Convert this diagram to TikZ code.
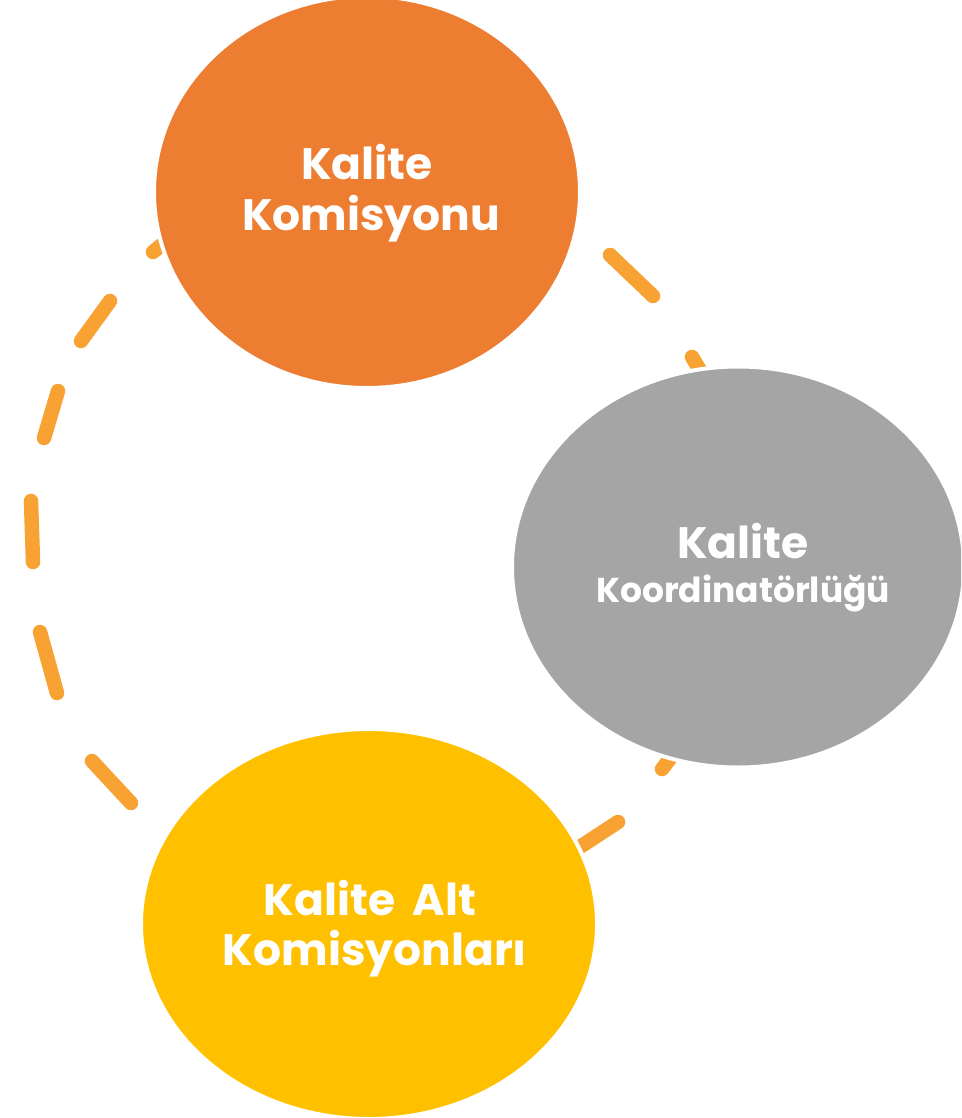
\documentclass[tikz,border=0pt]{standalone}
\usepackage{fontspec}
\setmainfont{Poppins}
\usetikzlibrary{shapes.geometric}
\definecolor{orgc}{HTML}{ED7D31}
\definecolor{grayc}{HTML}{A5A5A5}
\definecolor{yelc}{HTML}{FFC000}
\definecolor{dashc}{HTML}{F7A232}
\tikzset{
  blob/.style={ellipse, draw=white, line width=4pt, inner sep=0pt},
  ringdash/.style={draw=dashc, line width=14.5pt, line cap=round},
  lbl/.style={anchor=base, text=white, inner sep=0pt, font=\bfseries\fontsize{44}{50}\selectfont},
  lblsmall/.style={anchor=base, text=white, inner sep=0pt, font=\bfseries\fontsize{34.5}{40}\selectfont}
}
\begin{document}
\begin{tikzpicture}[x=1pt,y=-1pt]
\useasboundingbox (0,0) rectangle (961,1118);
\clip (0,0) rectangle (961,1118);
\fill[white] (0,0) rectangle (961,1118);
% ring of dashes (behind the ellipses)
\coordinate (d1a) at (153,252); \coordinate (d1b) at (190,222);
\coordinate (d2a) at (110,301); \coordinate (d2b) at (81,341);
\coordinate (d3a) at (58,391); \coordinate (d3b) at (44,438);
\coordinate (d4a) at (31,501); \coordinate (d4b) at (33,562);
\coordinate (d5a) at (40,632); \coordinate (d5b) at (57,693);
\coordinate (d6a) at (92,761); \coordinate (d6b) at (131,803);
\coordinate (d7a) at (610,255); \coordinate (d7b) at (653,296);
\coordinate (d8a) at (692,357); \coordinate (d8b) at (715,395);
\coordinate (d9a) at (688,735); \coordinate (d9b) at (662,769);
\coordinate (d10a) at (618,822); \coordinate (d10b) at (560,860);
\foreach \i in {1,...,10} { \draw[ringdash] (d\i a) -- (d\i b); }
% ellipses
\node[blob, fill=orgc, minimum width=426pt, minimum height=392pt] (kk) at (367,192) {};
\node[blob, fill=grayc, minimum width=452pt, minimum height=401pt] (kc) at (738,567) {};
\node[blob, fill=yelc, minimum width=456pt, minimum height=390pt] (ka) at (369,924) {};
% texts
\node[lbl] (kk1) at (367,180) {Kalite};
\node[lbl] (kk2) at (371,230) {Komisyonu};
\node[lbl] (kc1) at (743,558) {Kalite};
\node[lblsmall] (kc2) at (743,602) {Koordinatörlüğü};
\node[lbl] (ka1) at (370,915) {Kalite\hspace{8pt} Alt};
\node[lbl] (ka2) at (375,965) {Komisyonları};
\end{tikzpicture}
\end{document}
